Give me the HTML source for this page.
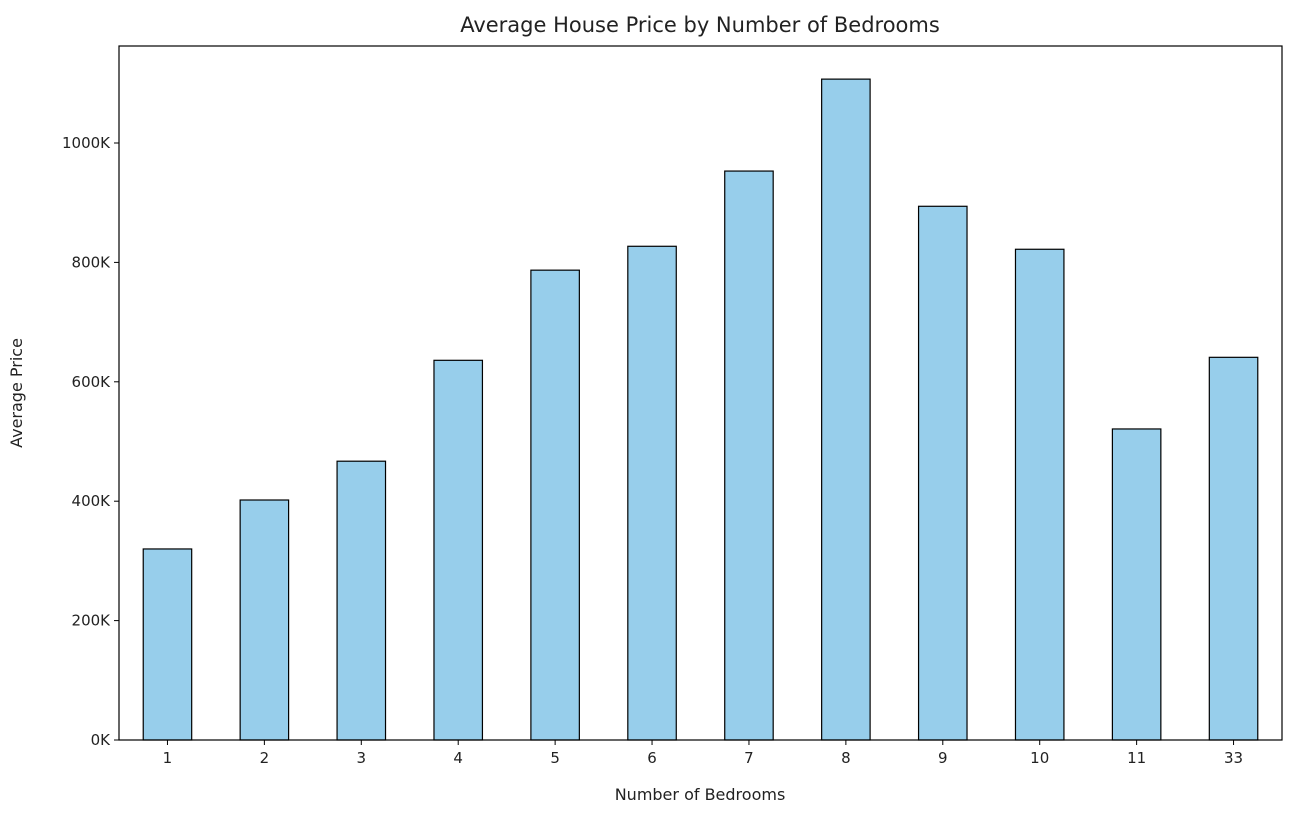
<!DOCTYPE html>
<html><head><meta charset="utf-8"><style>
body{margin:0;background:#fff;font-family:"DejaVu Sans","Liberation Sans",sans-serif;}
svg text{font-family:"DejaVu Sans","Liberation Sans",sans-serif;fill:#222;}
</style></head><body>
<svg id="chart" width="1294" height="811" xmlns="http://www.w3.org/2000/svg">
<text x="700" y="32" text-anchor="middle" font-size="21">Average House Price by Number of Bedrooms</text>
<g id="bars"></g><g id="xticks"></g><g id="yticks"></g>
<rect x="119" y="46" width="1163" height="694" fill="none" stroke="#000" stroke-width="1.2"/>
<text x="700" y="800" text-anchor="middle" font-size="16">Number of Bedrooms</text>
<text transform="translate(22,393) rotate(-90)" text-anchor="middle" font-size="16">Average Price</text>
</svg>
<script>
const categories=["1","2","3","4","5","6","7","8","9","10","11","33"];
const values=[320,402,467,636,787,827,953,1107,894,822,521,641];
const yTicks=[0,200,400,600,800,1000];
const L=119,R=1282,B=740,pxPerK=119.4/200;
const step=(R-L)/categories.length;
const x=i=>L+step*(i+0.5);
const y=v=>B-v*pxPerK;
const ns="http://www.w3.org/2000/svg";
const bars=document.getElementById('bars'),xt=document.getElementById('xticks'),yt=document.getElementById('yticks');
categories.forEach((c,i)=>{
 const r=document.createElementNS(ns,'rect');
 r.setAttribute('x',x(i)-step*0.25);r.setAttribute('width',step*0.5);
 r.setAttribute('y',y(values[i]));r.setAttribute('height',B-y(values[i]));
 r.setAttribute('fill','#97ceeb');r.setAttribute('stroke','#000');r.setAttribute('stroke-width','1.2');
 
 
 bars.appendChild(r);
 const l=document.createElementNS(ns,'line');
 l.setAttribute('x1',x(i));l.setAttribute('x2',x(i));l.setAttribute('y1',B);l.setAttribute('y2',B+5);l.setAttribute('stroke','#000');
 xt.appendChild(l);
 const t=document.createElementNS(ns,'text');
 t.setAttribute('x',x(i));t.setAttribute('y',B+23);t.setAttribute('text-anchor','middle');t.setAttribute('font-size','15');
 t.textContent=c;
 
 
 xt.appendChild(t);
});
yTicks.forEach(v=>{
 const l=document.createElementNS(ns,'line');
 l.setAttribute('x1',L-5);l.setAttribute('x2',L);l.setAttribute('y1',y(v));l.setAttribute('y2',y(v));l.setAttribute('stroke','#000');
 yt.appendChild(l);
 const t=document.createElementNS(ns,'text');
 t.setAttribute('x',L-9);t.setAttribute('y',y(v)+5);t.setAttribute('text-anchor','end');t.setAttribute('font-size','15');
 t.textContent=v+'K';
 
 
 yt.appendChild(t);
});
</script>
</body></html>
